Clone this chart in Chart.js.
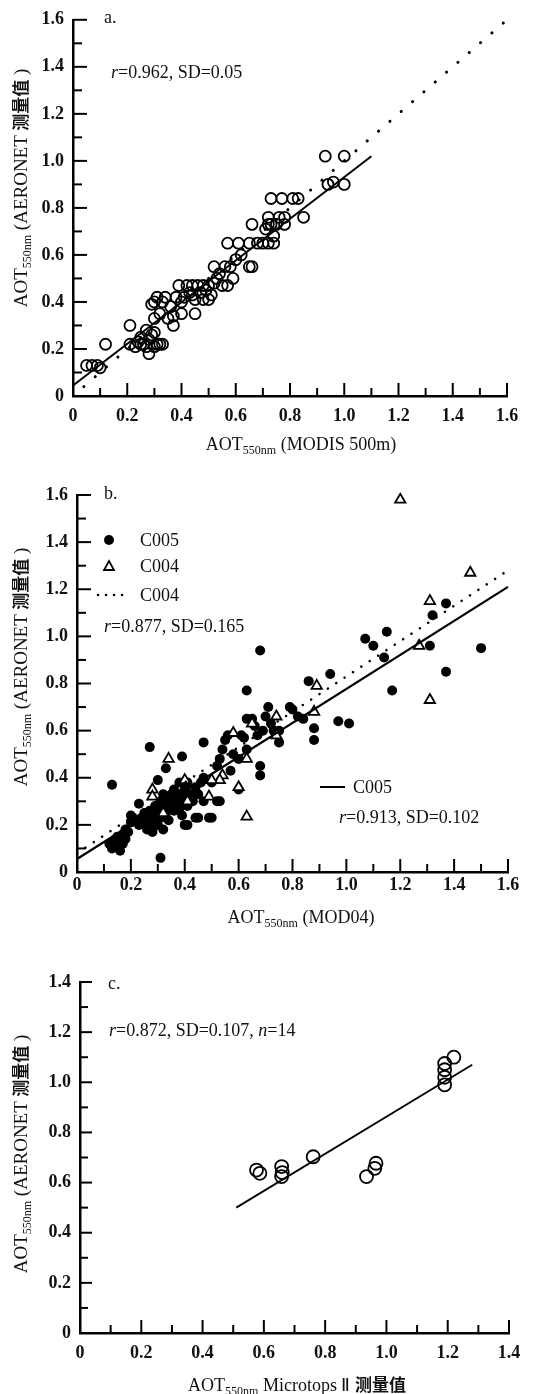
<!DOCTYPE html>
<html>
<head>
<meta charset="utf-8">
<script src="https://cdn.jsdelivr.net/npm/chart.js@4.4.1/dist/chart.umd.min.js"></script>
<style>
  body { margin: 0; background: #fff; }
  #page { position: relative; width: 540px; height: 1394px; overflow: hidden; }
  canvas { position: absolute; left: 0; }
  .t { position: absolute; white-space: nowrap; color: #111; line-height: 1;
       font-family: 'Liberation Serif', 'Times New Roman', serif; font-size: 18px; transform: translateY(-50%); }
  .cn { font-family: 'Noto Sans CJK SC', sans-serif; font-weight: 700; font-size: 17px; }
  .ytitle { position: absolute; white-space: nowrap; color: #111; line-height: 1;
       font-family: 'Liberation Serif', 'Times New Roman', serif; font-size: 19px;
       transform: translate(-50%, -50%) rotate(-90deg); }
  .xtitle { position: absolute; white-space: nowrap; color: #111; line-height: 1;
       font-family: 'Liberation Serif', 'Times New Roman', serif; font-size: 18px;
       transform: translate(-50%, -50%); }
  sub { font-size: 12px; vertical-align: -4px; line-height: 0; }
  svg { position: absolute; overflow: visible; }
</style>
</head>
<body>
<div id="page">
  <canvas id="chartA" width="540" height="440" style="top:0"></canvas>
  <canvas id="chartB" width="540" height="440" style="top:470px"></canvas>
  <canvas id="chartC" width="540" height="420" style="top:960px"></canvas>

  <!-- panel a text -->
  <div class="t" style="left:104px;top:17px">a.</div>
  <div class="t" style="left:111px;top:72px"><i>r</i>=0.962, SD=0.05</div>
  <div class="ytitle" style="left:20px;top:188px">AOT<sub>550nm</sub> (AERONET <span class="cn">测量值</span> )</div>
  <div class="xtitle" style="left:301px;top:444px">AOT<sub>550nm</sub> (MODIS 500m)</div>

  <!-- panel b text -->
  <div class="t" style="left:104px;top:493px">b.</div>
  <svg style="left:109px;top:540px" width="1" height="1"><circle cx="0" cy="0" r="5" fill="#000"/></svg>
  <div class="t" style="left:140px;top:540px">C005</div>
  <svg style="left:109px;top:566px" width="1" height="1"><polygon points="0,-5 5,4 -5,4" fill="#fff" stroke="#000" stroke-width="1.8"/></svg>
  <div class="t" style="left:140px;top:566px">C004</div>
  <svg style="left:98px;top:595px" width="1" height="1"><line x1="0" y1="0" x2="26" y2="0" stroke="#000" stroke-width="2.5" stroke-dasharray="0.1 7.9" stroke-linecap="round"/></svg>
  <div class="t" style="left:140px;top:595px">C004</div>
  <div class="t" style="left:104px;top:626px"><i>r</i>=0.877, SD=0.165</div>
  <svg style="left:320px;top:787px" width="1" height="1"><line x1="0" y1="0" x2="25" y2="0" stroke="#000" stroke-width="2"/></svg>
  <div class="t" style="left:353px;top:787px">C005</div>
  <div class="t" style="left:339px;top:817px"><i>r</i>=0.913, SD=0.102</div>
  <div class="ytitle" style="left:20px;top:667px">AOT<sub>550nm</sub> (AERONET <span class="cn">测量值</span> )</div>
  <div class="xtitle" style="left:301px;top:917px">AOT<sub>550nm</sub> (MOD04)</div>

  <!-- panel c text -->
  <div class="t" style="left:108px;top:983px">c.</div>
  <div class="t" style="left:109px;top:1030px"><i>r</i>=0.872, SD=0.107, <i>n</i>=14</div>
  <div class="ytitle" style="left:20px;top:1154px">AOT<sub>550nm</sub> (AERONET <span class="cn">测量值</span> )</div>
  <div class="xtitle" style="left:297px;top:1384px">AOT<sub>550nm</sub> Microtops Ⅱ <span class="cn">测量值</span></div>
</div>

<script>
// ---- panel a: MODIS 500m vs AERONET ----
const aModis = [0.05, 0.07, 0.09, 0.10, 0.12, 0.21, 0.21, 0.23, 0.24, 0.25, 0.26, 0.27, 0.27, 0.28, 0.28, 0.29,
  0.30, 0.30, 0.30, 0.31, 0.32, 0.33, 0.29, 0.30, 0.31, 0.33, 0.34, 0.32, 0.35, 0.37, 0.37, 0.38, 0.39, 0.40,
  0.40, 0.41, 0.42, 0.43, 0.44, 0.45, 0.45, 0.46, 0.47, 0.48, 0.48, 0.49, 0.50, 0.50, 0.51, 0.52, 0.52, 0.53,
  0.55, 0.56, 0.57, 0.58, 0.59, 0.57, 0.61, 0.62, 0.65, 0.66, 0.65, 0.68, 0.70, 0.72, 0.74, 0.74, 0.66, 0.71,
  0.72, 0.73, 0.75, 0.78, 0.85, 0.72, 0.76, 0.78, 0.73, 0.77, 0.81, 0.83, 0.94, 0.96, 1.00, 0.93, 1.00, 0.36,
  0.44, 0.54, 0.60, 0.25];
const aAeronet = [0.13, 0.13, 0.13, 0.12, 0.22, 0.30, 0.22, 0.21, 0.23, 0.25, 0.22, 0.28, 0.21, 0.18, 0.24, 0.26,
  0.21, 0.27, 0.33, 0.22, 0.22, 0.22, 0.39, 0.40, 0.42, 0.40, 0.42, 0.35, 0.33, 0.30, 0.34, 0.42, 0.47, 0.35,
  0.40, 0.42, 0.47, 0.44, 0.47, 0.41, 0.35, 0.47, 0.44, 0.41, 0.47, 0.45, 0.41, 0.47, 0.43, 0.55, 0.48, 0.50,
  0.47, 0.55, 0.47, 0.55, 0.50, 0.65, 0.65, 0.60, 0.55, 0.55, 0.65, 0.65, 0.65, 0.65, 0.65, 0.68, 0.73, 0.71,
  0.73, 0.73, 0.73, 0.73, 0.76, 0.76, 0.76, 0.76, 0.84, 0.84, 0.84, 0.84, 0.90, 0.91, 0.90, 1.02, 1.02, 0.38,
  0.43, 0.52, 0.58, 0.22];
const aFitX = [0, 1.1];
const aFitY = [0.045, 1.02];
const aOneX = [0.04, 1.6];
const aOneY = [0.04, 1.6];
const abTicks = [0, 0.2, 0.4, 0.6, 0.8, 1.0, 1.2, 1.4, 1.6];

// ---- panel b: MOD04 C005 / C004 vs AERONET ----
const bC005X = [0.12, 0.13, 0.14, 0.15, 0.15, 0.16, 0.16, 0.17, 0.17, 0.18, 0.18, 0.19, 0.20, 0.20, 0.22, 0.23,
  0.23, 0.24, 0.25, 0.25, 0.26, 0.26, 0.27, 0.27, 0.28, 0.28, 0.29, 0.29, 0.30, 0.30, 0.30, 0.31, 0.31, 0.32,
  0.32, 0.32, 0.33, 0.33, 0.33, 0.34, 0.34, 0.35, 0.35, 0.36, 0.36, 0.37, 0.37, 0.38, 0.38, 0.38, 0.39, 0.39,
  0.40, 0.40, 0.40, 0.41, 0.41, 0.42, 0.43, 0.44, 0.44, 0.45, 0.46, 0.47, 0.49, 0.50, 0.52, 0.52, 0.53, 0.54,
  0.55, 0.56, 0.57, 0.58, 0.60, 0.60, 0.61, 0.62, 0.63, 0.63, 0.63, 0.65, 0.66, 0.67, 0.68, 0.68, 0.68, 0.69,
  0.70, 0.71, 0.72, 0.73, 0.75, 0.75, 0.79, 0.80, 0.82, 0.84, 0.86, 0.88, 0.88, 0.94, 0.97, 1.01, 1.07, 1.10,
  1.14, 1.15, 1.17, 1.32, 1.31, 1.37, 1.37, 1.50, 0.13, 0.27, 0.31, 0.39, 0.47, 0.41, 0.45, 0.50, 0.53, 0.47];
const bC005Y = [0.12, 0.10, 0.13, 0.11, 0.15, 0.09, 0.13, 0.12, 0.16, 0.14, 0.18, 0.17, 0.21, 0.24, 0.22, 0.29,
  0.20, 0.23, 0.21, 0.25, 0.18, 0.23, 0.20, 0.26, 0.24, 0.17, 0.22, 0.28, 0.20, 0.26, 0.39, 0.23, 0.30, 0.18,
  0.27, 0.33, 0.25, 0.31, 0.44, 0.28, 0.22, 0.30, 0.33, 0.26, 0.35, 0.29, 0.31, 0.27, 0.38, 0.33, 0.30, 0.24,
  0.35, 0.32, 0.20, 0.28, 0.38, 0.33, 0.30, 0.23, 0.36, 0.33, 0.38, 0.40, 0.23, 0.38, 0.45, 0.30, 0.48, 0.52,
  0.56, 0.58, 0.43, 0.50, 0.35, 0.48, 0.58, 0.57, 0.52, 0.65, 0.77, 0.65, 0.62, 0.58, 0.45, 0.41, 0.94, 0.60,
  0.66, 0.70, 0.63, 0.60, 0.60, 0.55, 0.70, 0.69, 0.66, 0.65, 0.81, 0.61, 0.56, 0.84, 0.64, 0.63, 0.99, 0.96,
  0.91, 1.02, 0.77, 1.09, 0.96, 1.14, 0.85, 0.95, 0.37, 0.53, 0.06, 0.49, 0.55, 0.20, 0.23, 0.23, 0.30, 0.30];
const bC004X = [1.20, 1.46, 1.31, 1.27, 1.31, 0.89, 0.88, 0.74, 0.74, 0.65, 0.63, 0.58, 0.60, 0.63, 0.54, 0.53,
  0.50, 0.49, 0.40, 0.34, 0.28, 0.28, 0.32, 0.41];
const bC004Y = [1.58, 1.27, 1.15, 0.96, 0.73, 0.79, 0.68, 0.66, 0.58, 0.63, 0.48, 0.59, 0.36, 0.235, 0.41, 0.39,
  0.39, 0.32, 0.39, 0.48, 0.35, 0.32, 0.25, 0.30];
const bFit005X = [0, 1.6];
const bFit005Y = [0.055, 1.21];
const bFit004X = [0, 1.6];
const bFit004Y = [0.08, 1.28];

// ---- panel c: Microtops II vs AERONET ----
const cMicrotops = [0.576, 0.587, 0.658, 0.658, 0.66, 0.761, 0.935, 0.966, 0.962, 1.19, 1.19, 1.19, 1.19, 1.22];
const cAeronet = [0.65, 0.637, 0.664, 0.624, 0.64, 0.703, 0.624, 0.677, 0.657, 0.99, 1.02, 1.05, 1.075, 1.10];
const cFitX = [0.51, 1.28];
const cFitY = [0.50, 1.07];
const cTicks = [0, 0.2, 0.4, 0.6, 0.8, 1.0, 1.2, 1.4];

const FONT = "'Liberation Serif', 'Times New Roman', serif";
const pts = (xs, ys) => xs.map((x, i) => ({ x: x, y: ys[i] }));

// inward major / minor tick marks, placed through the scales
const inTicks = {
  id: 'inTicks',
  afterDraw(chart, args, opts) {
    const { ctx, scales: { x, y } } = chart;
    ctx.save();
    ctx.strokeStyle = '#000';
    ctx.lineWidth = 2;
    const n = Math.round(opts.max / 0.1);
    for (let i = 1; i <= n; i++) {
      const v = i / 10;
      const major = i % 2 === 0;
      const px = x.getPixelForValue(v);
      ctx.beginPath();
      ctx.moveTo(px, x.top);
      ctx.lineTo(px, x.top - (major ? opts.xMajor : opts.xMinor));
      ctx.stroke();
      const py = y.getPixelForValue(v);
      ctx.beginPath();
      ctx.moveTo(y.right, py);
      ctx.lineTo(y.right + (major ? opts.yMajor : opts.yMinor), py);
      ctx.stroke();
    }
    ctx.restore();
  }
};

function axis(tickVals, max, pad, fit, horizontal) {
  return {
    type: 'linear',
    min: 0,
    max: max,
    afterBuildTicks: s => { s.ticks = tickVals.map(v => ({ value: v })); },
    afterFit: s => { if (horizontal) s.height = fit; else s.width = fit; },
    grid: { display: false, drawTicks: false, tickLength: 0 },
    border: { display: true, color: '#000', width: 2.5 },
    ticks: {
      color: '#111',
      padding: pad,
      autoSkip: false,
      maxRotation: 0,
      font: { family: FONT, size: 18, weight: 'bold' },
      callback: v => v === 0 ? '0' : v.toFixed(1)
    }
  };
}

function baseOptions(tickVals, max, xPad, xFit, yFit, padding, tickLens) {
  return {
    responsive: false,
    animation: false,
    events: [],
    layout: { padding: padding },
    scales: {
      x: axis(tickVals, max, xPad, xFit, true),
      y: axis(tickVals, max, 9, yFit, false)
    },
    plugins: {
      legend: { display: false },
      tooltip: { enabled: false },
      inTicks: Object.assign({ max: max }, tickLens)
    }
  };
}

const fitLine = (xs, ys, w, dash) => ({
  data: pts(xs, ys),
  showLine: true,
  borderColor: '#000',
  borderWidth: w,
  borderDash: dash || [],
  borderCapStyle: dash ? 'round' : 'butt',
  pointRadius: 0,
  clip: false
});

new Chart(document.getElementById('chartA'), {
  type: 'scatter',
  data: {
    datasets: [
      fitLine(aFitX, aFitY, 2),
      fitLine(aOneX, aOneY, 3, [0.1, 14.9]),
      {
        data: pts(aModis, aAeronet),
        pointStyle: 'circle',
        pointRadius: 5.5,
        borderWidth: 1.8,
        borderColor: '#000',
        backgroundColor: 'rgba(0,0,0,0)',
        clip: false
      }
    ]
  },
  options: baseOptions(abTicks, 1.6, 10, 44, 73, { top: 14, right: 33, left: 0, bottom: 0 },
    { xMajor: 13, xMinor: 8, yMajor: 14, yMinor: 9 }),
  plugins: [inTicks]
});

new Chart(document.getElementById('chartB'), {
  type: 'scatter',
  data: {
    datasets: [
      fitLine(bFit005X, bFit005Y, 2.2),
      fitLine(bFit004X, bFit004Y, 2.5, [0.1, 9.9]),
      {
        data: pts(bC004X, bC004Y),
        pointStyle: 'triangle',
        pointRadius: 6,
        borderWidth: 1.8,
        borderColor: '#000',
        backgroundColor: '#fff',
        clip: false
      },
      {
        data: pts(bC005X, bC005Y),
        pointStyle: 'circle',
        pointRadius: 5,
        borderWidth: 0,
        backgroundColor: '#000',
        clip: false
      }
    ]
  },
  options: baseOptions(abTicks, 1.6, 3, 38, 77, { top: 25, right: 32, left: 0, bottom: 0 },
    { xMajor: 13, xMinor: 8, yMajor: 14, yMinor: 9 }),
  plugins: [inTicks]
});

new Chart(document.getElementById('chartC'), {
  type: 'scatter',
  data: {
    datasets: [
      fitLine(cFitX, cFitY, 1.8),
      {
        data: pts(cMicrotops, cAeronet),
        pointStyle: 'circle',
        pointRadius: 6.5,
        borderWidth: 1.8,
        borderColor: '#000',
        backgroundColor: 'rgba(0,0,0,0)',
        clip: false
      }
    ]
  },
  options: baseOptions(cTicks, 1.4, 10, 47, 80, { top: 22, right: 31, left: 0, bottom: 0 },
    { xMajor: 13, xMinor: 8, yMajor: 12, yMinor: 8 }),
  plugins: [inTicks]
});
</script>
</body>
</html>
